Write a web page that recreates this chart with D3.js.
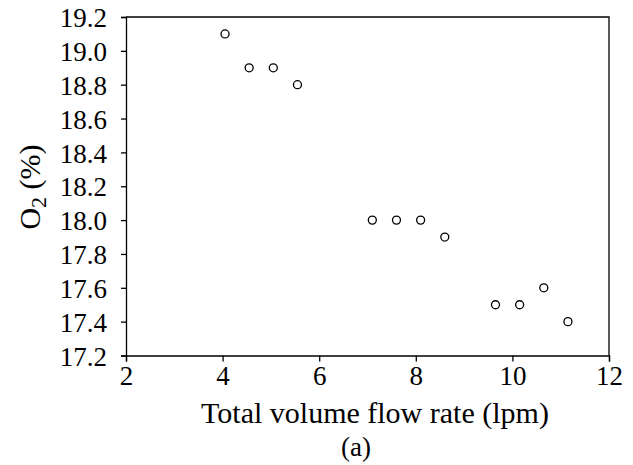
<!DOCTYPE html>
<html>
<head>
<meta charset="utf-8">
<script src="https://cdn.jsdelivr.net/npm/d3@7"></script>
</head>
<body style="margin:0">
<svg id="chart" width="633" height="465"></svg>
<script>
// flow rate (lpm) vs O2 (%)
var flowRate = [4.05, 4.55, 5.05, 5.55, 7.1, 7.6, 8.1, 8.6, 9.65, 10.15, 10.65, 11.15];
var o2 = [19.1, 18.9, 18.9, 18.8, 18.0, 18.0, 18.0, 17.9, 17.5, 17.5, 17.6, 17.4];
var xTicks = [2, 4, 6, 8, 10, 12];
var yTicks = [17.2, 17.4, 17.6, 17.8, 18.0, 18.2, 18.4, 18.6, 18.8, 19.0, 19.2];

var plotLeft = 126, plotRight = 609, plotTop = 17, plotBottom = 355.5;

var svg = d3.select('#chart');

var x = d3.scaleLinear().domain([2, 12]).range([plotLeft, plotRight]);
var y = d3.scaleLinear().domain([17.2, 19.2]).range([plotBottom, plotTop]);

// frame (top + right)
svg.append('path')
  .attr('d', 'M' + plotLeft + ',' + plotTop + 'H' + plotRight + 'V' + plotBottom)
  .attr('fill', 'none')
  .attr('stroke', '#000')
  .attr('stroke-width', 1.3);

//x axis
var gx = svg.append('g')
  .attr('transform', 'translate(0,' + plotBottom + ')')
  .call(d3.axisBottom(x).tickValues(xTicks).tickSize(6).tickPadding(4).tickFormat(d3.format('d')));

//y axis
var gy = svg.append('g')
  .attr('transform', 'translate(' + plotLeft + ',0)')
  .call(d3.axisLeft(y).tickValues(yTicks).tickSize(5).tickPadding(14).tickFormat(d3.format('.1f')));

[gx, gy].forEach(function(g){
  g.attr('font-family', 'Liberation Serif').attr('font-size', 27);
  g.select('.domain').attr('stroke', '#000').attr('stroke-width', 1.3);
  g.selectAll('.tick line').attr('stroke', '#000').attr('stroke-width', 1.3);
  g.selectAll('.tick text').attr('fill', '#000')
    .attr('style', "font-family:'Liberation Serif';font-size:27px");
});
gy.selectAll('.tick text').attr('dy', '0.36em');

// points
svg.append('g').selectAll('circle')
  .data(flowRate.map(function(d, i){ return {x: d, y: o2[i]}; }))
  .enter()
  .append('circle')
    .attr('cx', function(d){ return x(d.x); })
    .attr('cy', function(d){ return y(d.y); })
    .attr('r', 4)
    .attr('fill', '#fff')
    .attr('stroke', '#000')
    .attr('stroke-width', 1.3);

// axis titles
svg.append('text')
  .attr('x', 375)
  .attr('y', 423)
  .attr('text-anchor', 'middle')
  .attr('style', "font-family:'Liberation Serif';font-size:30px")
  .text('Total volume flow rate (lpm)');

svg.append('text')
  .attr('x', 356)
  .attr('y', 456)
  .attr('text-anchor', 'middle')
  .attr('style', "font-family:'Liberation Serif';font-size:27px")
  .text('(a)');

var yl = svg.append('text')
  .attr('transform', 'translate(40,187) rotate(-90)')
  .attr('text-anchor', 'middle')
  .attr('style', "font-family:'Liberation Serif';font-size:30px");
yl.append('tspan').text('O');
yl.append('tspan').attr('dy', 6).attr('style', 'font-size:22px').text('2');
yl.append('tspan').attr('dy', -6).text(' (%)');
</script>
</body>
</html>
